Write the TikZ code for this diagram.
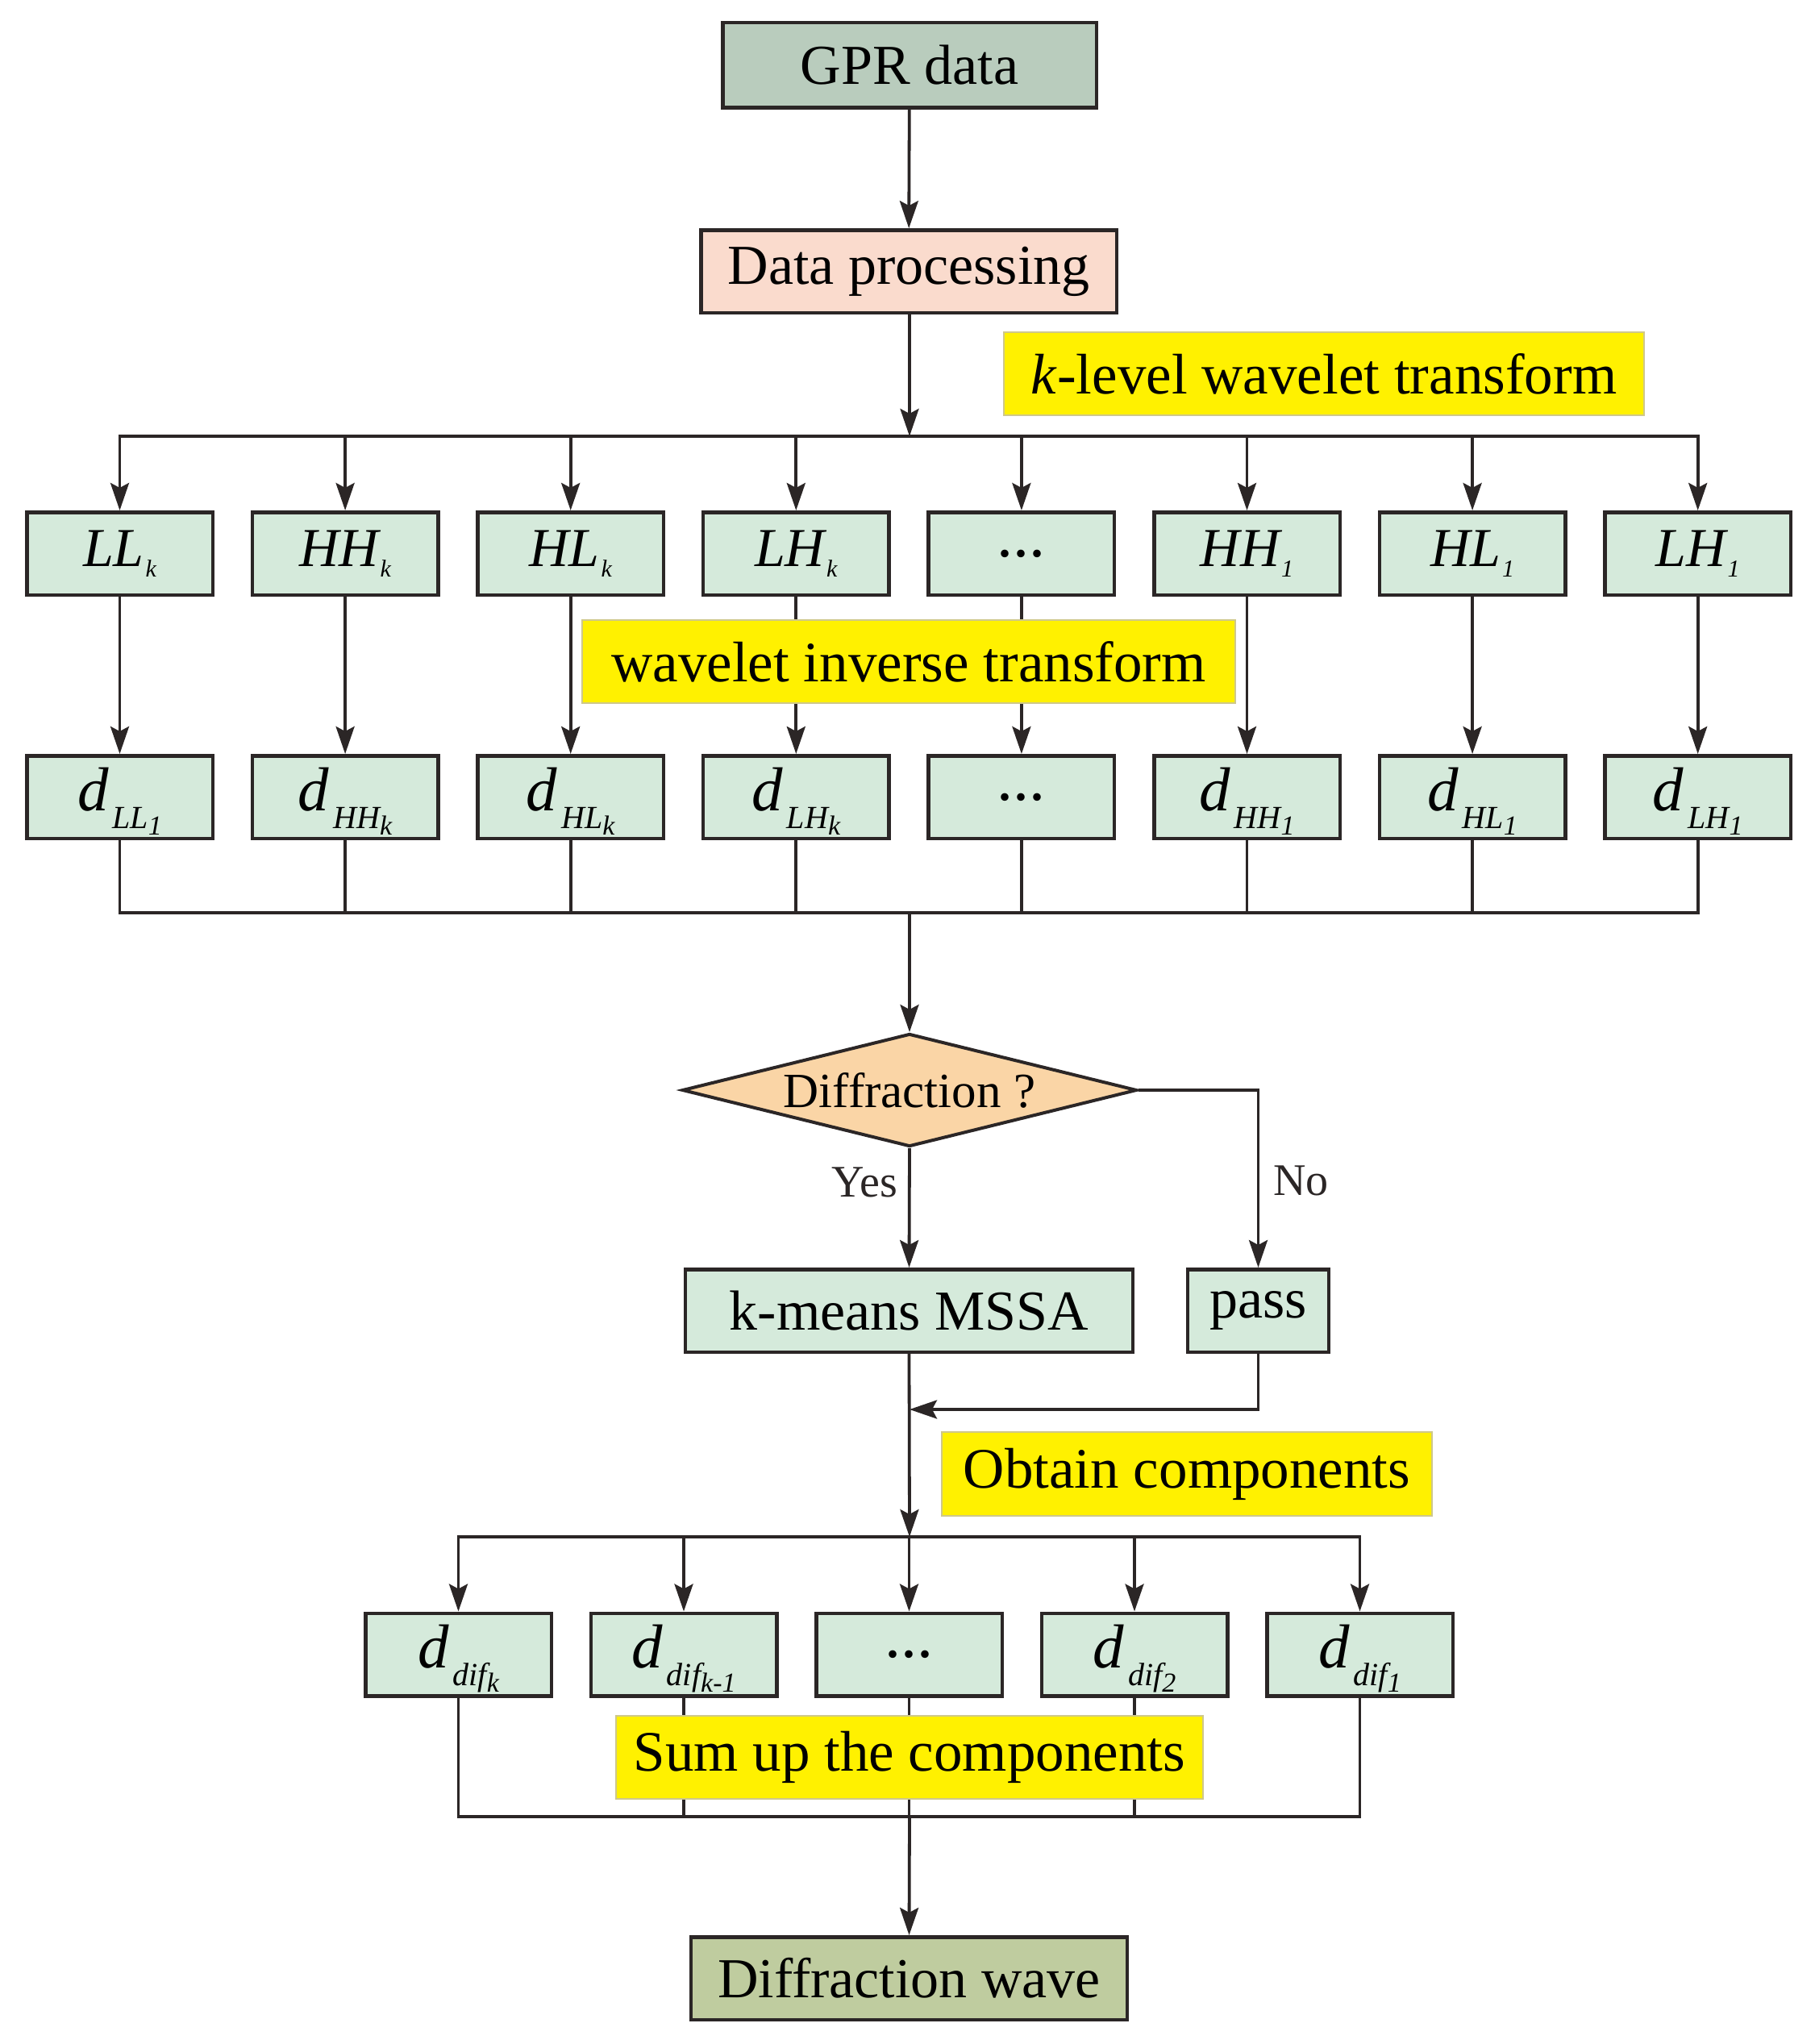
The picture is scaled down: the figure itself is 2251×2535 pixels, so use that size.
\documentclass[tikz,border=0pt]{standalone}
\usepackage{fontspec}
\setmainfont{Liberation Serif}
\usetikzlibrary{shapes.geometric,arrows.meta}
\definecolor{linecol}{HTML}{2B2626}
\definecolor{boxgreen}{HTML}{D5EADB}
\definecolor{gprcol}{HTML}{B9CCBD}
\definecolor{proccol}{HTML}{FADBCD}
\definecolor{diamcol}{HTML}{FAD5A6}
\definecolor{wavecol}{HTML}{BFCC9F}
\definecolor{yel}{HTML}{FFF100}
\definecolor{ybord}{HTML}{CFC88A}
\newcommand{\bandlab}[2]{{\fontsize{68}{68}\selectfont\itshape #1}\kern2pt\raisebox{-13pt}{\fontsize{30}{30}\selectfont\itshape #2}}
\newcommand{\dlab}[2]{\rule{0pt}{63pt}{\fontsize{77}{77}\selectfont\itshape d}\kern5pt\raisebox{-22pt}{\fontsize{40}{40}\selectfont\itshape #1}\raisebox{-30pt}{\fontsize{34}{34}\selectfont\itshape #2}}
\newcommand{\threedots}{{\fontsize{80}{80}\selectfont ...}}
\tikzset{
  box/.style={draw=linecol, line width=4.5pt, fill=boxgreen, inner sep=0pt,
    minimum width=230.5pt, minimum height=102.5pt, font=\fontsize{70}{84}\selectfont},
  ybox/.style={draw=ybord, line width=2pt, fill=yel, inner sep=0pt,
    font=\fontsize{71}{85}\selectfont},
  conn/.style={draw=linecol, line width=3.8pt},
  bus/.style={conn, line cap=rect},
  arr/.style={conn, -{Stealth[length=34pt,width=23pt,inset=6pt]}},
  lbl/.style={inner sep=0pt, font=\fontsize{56}{67}\selectfont, text=linecol},
}
\begin{document}
\begin{tikzpicture}[x=1pt,y=-1pt]
\useasboundingbox (0,0) rectangle (2251,2535);
% top
\node[box, fill=gprcol, minimum width=463.5pt, minimum height=105.5pt] (gpr) at (1128,80.7) {GPR data};
\node[box, fill=proccol, minimum width=515.5pt] (proc) at (1127,336.6) {Data processing};
% row 1
\node[box] (r1a) at (148.5,686.5) {\bandlab{LL}{k}};
\node[box] (r1b) at (428.1,686.5) {\bandlab{HH}{k}};
\node[box] (r1c) at (707.7,686.5) {\bandlab{HL}{k}};
\node[box] (r1d) at (987.3,686.5) {\bandlab{LH}{k}};
\node[box] (r1e) at (1266.9,686.5) {\threedots};
\node[box] (r1f) at (1546.5,686.5) {\bandlab{HH}{1}};
\node[box] (r1g) at (1826.1,686.5) {\bandlab{HL}{1}};
\node[box] (r1h) at (2105.7,686.5) {\bandlab{LH}{1}};
% row 2
\node[box] (r2a) at (148.5,988.5) {\dlab{LL}{1}};
\node[box] (r2b) at (428.1,988.5) {\dlab{HH}{k}};
\node[box] (r2c) at (707.7,988.5) {\dlab{HL}{k}};
\node[box] (r2d) at (987.3,988.5) {\dlab{LH}{k}};
\node[box] (r2e) at (1266.9,988.5) {\threedots};
\node[box] (r2f) at (1546.5,988.5) {\dlab{HH}{1}};
\node[box] (r2g) at (1826.1,988.5) {\dlab{HL}{1}};
\node[box] (r2h) at (2105.7,988.5) {\dlab{LH}{1}};
% decision
\node[draw=linecol, line width=4pt, fill=diamcol, shape=diamond, aspect=4, inner sep=0pt,
  minimum width=564pt, minimum height=140pt, font=\fontsize{61}{73}\selectfont] (diam) at (1128,1352) {Diffraction ?};
\node[box, minimum width=555pt] (kmeans) at (1127.5,1625.5) {k-means MSSA};
\node[box, minimum width=175pt] (pass) at (1560.5,1625.5) {pass};
% row 3
\node[box] (r3a) at (568.5,2052) {\dlab{dif}{k}};
\node[box] (r3b) at (848,2052) {\dlab{dif}{k-1}};
\node[box] (r3c) at (1127.5,2052) {\threedots};
\node[box] (r3d) at (1407,2052) {\dlab{dif}{2}};
\node[box] (r3e) at (1686.5,2052) {\dlab{dif}{1}};
\node[box, fill=wavecol, minimum width=541pt] (wave) at (1127.5,2453.5) {Diffraction wave};
% labels
\node[lbl, anchor=base east] (yes) at (1113,1484) {Yes};
\node[lbl, anchor=base west] (no) at (1579,1482) {No};
% coordinates of buses
\coordinate (b1) at (1128,541);
\coordinate (b2) at (1128,1132);
\coordinate (fb) at (1128,1748);
\coordinate (b3) at (1128,1906);
\coordinate (b4) at (1128,2253);
% connectors
\draw[arr] (gpr) -- (proc);
\draw[arr] (proc.south -| b1) -- (b1);
\draw[bus] (r1a.north |- b1) -- (r1h.north |- b1);
\foreach \i in {a,b,c,d,e,f,g,h} {
  \draw[arr] (r1\i.north |- b1) -- (r1\i.north);
  \draw[arr] (r1\i) -- (r2\i);
}
\draw[conn] (r2a.south) |- (b2) -| (r2h.south);
\foreach \i in {b,c,d,e,f,g} {
  \draw[conn] (r2\i.south) -- (r2\i.south |- b2);
}
\draw[arr] (b2) -- (diam.north);
\draw[arr] (diam.south) -- (kmeans.north);
\draw[arr] (diam.east) -| (pass.north);
\draw[arr] (pass.south) |- (fb);
\draw[arr] (kmeans.south) -- (b3);
\draw[bus] (r3a.north |- b3) -- (r3e.north |- b3);
\foreach \i in {a,b,c,d,e} {
  \draw[arr] (r3\i.north |- b3) -- (r3\i.north);
}
\draw[conn] (r3a.south) |- (b4) -| (r3e.south);
\foreach \i in {b,c,d} {
  \draw[conn] (r3\i.south) -- (r3\i.south |- b4);
}
\draw[arr] (b4) -- (wave.north);
% yellow annotation boxes (on top of lines)
\node[ybox, minimum width=794pt, minimum height=103pt] (klev) at (1642,463.5) {\textit{k}-level wavelet transform};
\node[ybox, minimum width=810pt, minimum height=103pt] (winv) at (1127,820.5) {wavelet inverse transform};
\node[ybox, minimum width=608pt, minimum height=104pt] (obt) at (1472,1828) {Obtain components};
\node[ybox, minimum width=728pt, minimum height=103pt] (sumc) at (1127.75,2179.5) {Sum up the components};
\end{tikzpicture}
\end{document}
